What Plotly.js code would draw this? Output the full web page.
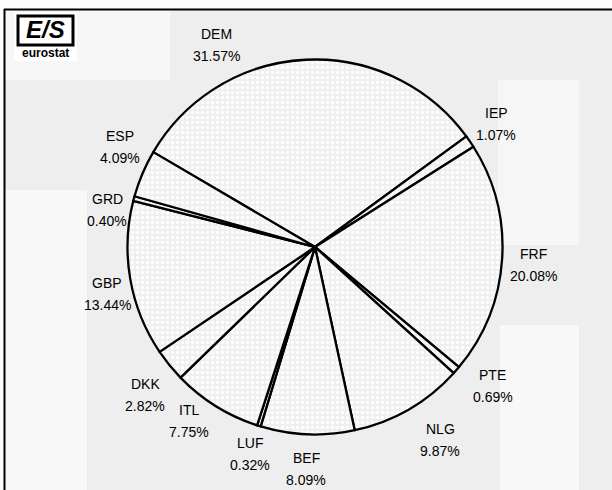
<!DOCTYPE html>
<html>
<head>
<meta charset="utf-8">
<script src="https://cdn.plot.ly/plotly-3.0.1.min.js"></script>
<style>html,body{margin:0;padding:0;background:#eeeeee;}#chart{width:612px;height:490px;}</style>
</head>
<body>
<div id="chart"></div>
<script>
// Data
const currencies = ['DEM','IEP','FRF','PTE','NLG','BEF','LUF','ITL','DKK','GBP','GRD','ESP'];
const shares     = [31.57, 1.07, 20.08, 0.69, 9.87, 8.09, 0.32, 7.75, 2.82, 13.44, 0.40, 4.09];

// Geometry / style (not data)
const W = 612, H = 490;
const CX = 315, CY = 247, R = 187.5;
const ROT = -59.6;           // first slice start, degrees clockwise from 12 o'clock
const LABEL_D = 219;         // label centre distance from pie centre (px)
// small angle (deg) / distance (px) adjustments of label placement
const labelNudge = {
  DEM: {da: -23, dd: 6}, FRF: {da: 1, dd: 0}, PTE: {da: -3, dd: 7}, NLG: {da: -3, dd: 11},
  BEF: {da: 0, dd: 3}, LUF: {da: 0, dd: -2}, ITL: {da: 4, dd: -4}, DKK: {da: -2, dd: 6},
  GBP: {da: -3, dd: -6}, GRD: {da: -5, dd: -8}, ESP: {da: 4, dd: 0}
};
const FONT = 'Liberation Sans, Arial, Helvetica, sans-serif';

const trace = {
  type: 'pie',
  labels: currencies,
  values: shares,
  sort: false,
  direction: 'clockwise',
  rotation: ROT,
  textinfo: 'none',
  hoverinfo: 'label+value',
  showlegend: false,
  domain: {x: [(CX - R) / W, (CX + R) / W], y: [(H - CY - R) / H, (H - CY + R) / H]},
  marker: {
    colors: currencies.map(() => '#f2f2f2'),
    line: {color: '#000000', width: 2.3},
    pattern: {shape: '.', bgcolor: '#efefef', fgcolor: '#ffffff', size: 5, solidity: 0.35}
  }
};

// Labels placed at each slice's mid angle, computed from the values
const total = shares.reduce((a, b) => a + b, 0);
const annotations = [];
let cum = 0;
currencies.forEach((name, i) => {
  const v = shares[i];
  let a = ROT + (cum + v / 2) / total * 360;
  let d = LABEL_D;
  cum += v;
  if (labelNudge[name]) { a += labelNudge[name].da; d += labelNudge[name].dd; }
  const rad = a * Math.PI / 180;
  const px = CX + d * Math.sin(rad);
  const py = CY - d * Math.cos(rad);
  const base = {xref: 'paper', yref: 'paper', x: px / W, y: 1 - py / H,
    xanchor: 'center', yanchor: 'middle', showarrow: false,
    font: {family: FONT, size: 14, color: '#000000'}, bgcolor: 'rgba(0,0,0,0)'};
  annotations.push(Object.assign({}, base, {text: name, yshift: 11}));
  annotations.push(Object.assign({}, base, {text: v.toFixed(2) + '%', yshift: -11}));
});

// Logo
annotations.push({xref: 'paper', yref: 'paper', x: 45.5 / W, y: 1 - 30 / H, xanchor: 'center', yanchor: 'middle',
  showarrow: false, text: '<b><i>E/S</i></b>', font: {family: FONT, size: 24, color: '#000'}});
annotations.push({xref: 'paper', yref: 'paper', x: 45.5 / W, y: 1 - 53 / H, xanchor: 'center', yanchor: 'middle',
  showarrow: false, text: '<b>eurostat</b>', font: {family: FONT, size: 12, color: '#000'}});

function px2x(p) { return p / W; }
function py2y(p) { return 1 - p / H; }
const shapes = [
  // light blocks of the scanned background
  {type: 'rect', xref: 'paper', yref: 'paper', layer: 'below', x0: 0, x1: 1.02, y0: py2y(9), y1: 1.02, fillcolor: '#fdfdfd', line: {width: 0}},
  {type: 'rect', xref: 'paper', yref: 'paper', layer: 'below', x0: -0.02, x1: px2x(4), y0: -0.02, y1: 1.02, fillcolor: '#fdfdfd', line: {width: 0}},
  {type: 'rect', xref: 'paper', yref: 'paper', layer: 'below', x0: px2x(5), x1: px2x(170), y0: py2y(80), y1: py2y(10), fillcolor: '#f7f7f7', line: {width: 0}},
  {type: 'rect', xref: 'paper', yref: 'paper', layer: 'below', x0: px2x(5), x1: px2x(87), y0: -0.02, y1: py2y(190), fillcolor: '#f8f8f8', line: {width: 0}},
  {type: 'rect', xref: 'paper', yref: 'paper', layer: 'below', x0: px2x(500), x1: px2x(579), y0: -0.02, y1: py2y(325), fillcolor: '#f8f8f8', line: {width: 0}},
  {type: 'rect', xref: 'paper', yref: 'paper', layer: 'below', x0: px2x(498), x1: px2x(579), y0: py2y(245), y1: py2y(80), fillcolor: '#f6f6f6', line: {width: 0}},
  // frame (top and left edges)
  {type: 'line', xref: 'paper', yref: 'paper', x0: px2x(4), x1: 1.02, y0: py2y(9.5), y1: py2y(9.5), line: {color: '#000', width: 2}},
  {type: 'line', xref: 'paper', yref: 'paper', x0: px2x(4.5), x1: px2x(4.5), y0: -0.02, y1: py2y(9), line: {color: '#000', width: 2}},
  // logo box
  {type: 'rect', xref: 'paper', yref: 'paper', x0: px2x(18), x1: px2x(73), y0: py2y(45), y1: py2y(16), fillcolor: '#ffffff', line: {color: '#000', width: 3}},
  {type: 'rect', xref: 'paper', yref: 'paper', layer: 'below', x0: px2x(14), x1: px2x(77), y0: py2y(61), y1: py2y(12), fillcolor: '#ffffff', line: {width: 0}}
];

const layout = {
  width: W, height: H,
  margin: {l: 0, r: 0, t: 0, b: 0, pad: 0},
  paper_bgcolor: '#eeeeee',
  plot_bgcolor: '#eeeeee',
  showlegend: false,
  annotations: annotations,
  shapes: shapes
};

Plotly.newPlot('chart', [trace], layout, {displayModeBar: false, staticPlot: true});
</script>
</body>
</html>
